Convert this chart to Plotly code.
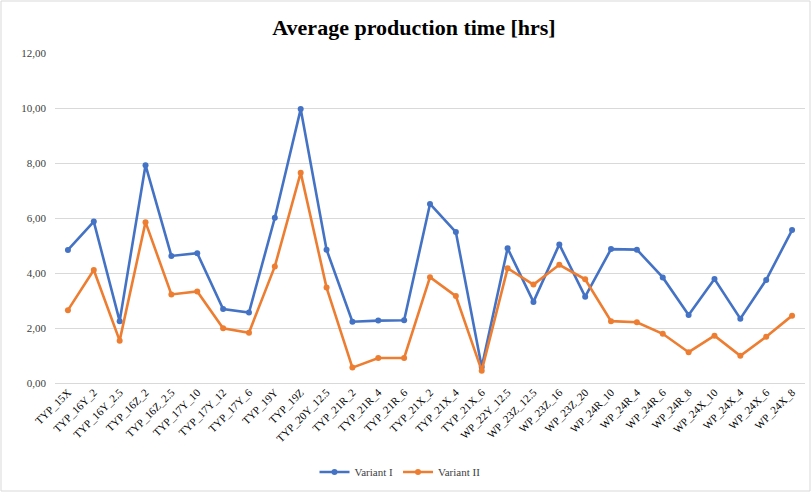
import plotly.graph_objects as go

# Product types on the category axis
categories = [
    "TYP_15X", "TYP_16Y_2", "TYP_16Y_2.5", "TYP_16Z_2", "TYP_16Z_2.5",
    "TYP_17Y_10", "TYP_17Y_12", "TYP_17Y_6", "TYP_19Y", "TYP_19Z",
    "TYP_20Y_12.5", "TYP_21R_2", "TYP_21R_4", "TYP_21R_6", "TYP_21X_2",
    "TYP_21X_4", "TYP_21X_6", "WP_22Y_12.5", "WP_23Z_12.5", "WP_23Z_16",
    "WP_23Z_20", "WP_24R_10", "WP_24R_4", "WP_24R_6", "WP_24R_8",
    "WP_24X_10", "WP_24X_4", "WP_24X_6", "WP_24X_8",
]

# Average production time [hrs] per variant
variant_1 = [
    4.84, 5.87, 2.25, 7.92, 4.62, 4.72, 2.69, 2.56, 6.01, 9.96,
    4.85, 2.23, 2.27, 2.28, 6.51, 5.49, 0.58, 4.90, 2.95, 5.04,
    3.14, 4.87, 4.85, 3.84, 2.47, 3.78, 2.34, 3.75, 5.56,
]
variant_2 = [
    2.65, 4.11, 1.54, 5.85, 3.22, 3.33, 1.99, 1.83, 4.24, 7.65,
    3.47, 0.56, 0.91, 0.91, 3.85, 3.16, 0.45, 4.17, 3.58, 4.30,
    3.77, 2.25, 2.21, 1.79, 1.12, 1.72, 0.99, 1.68, 2.45,
]

y_ticks = [0, 2, 4, 6, 8, 10, 12]
y_tick_text = ["0,00", "2,00", "4,00", "6,00", "8,00", "10,00", "12,00"]

W, H = 811, 492
ML, MR, MT, MB = 55, 6, 53, 109

fig = go.Figure()
fig.add_trace(go.Scatter(
    x=categories, y=variant_1, name="Variant I", mode="lines+markers",
    line=dict(color="#4472C4", width=2.6), marker=dict(size=6, color="#4472C4"),
))
fig.add_trace(go.Scatter(
    x=categories, y=variant_2, name="Variant II", mode="lines+markers",
    line=dict(color="#ED7D31", width=2.6), marker=dict(size=6, color="#ED7D31"),
))

pw = W - ML - MR
ph = H - MT - MB
# chart-area frame
fig.add_shape(
    type="rect", xref="paper", yref="paper",
    x0=(1 - ML) / pw, x1=(W - 1 - ML) / pw,
    y0=-(MB - 1) / ph, y1=(H - 1 - MB) / ph,
    line=dict(color="#d9d9d9", width=1), fillcolor="rgba(0,0,0,0)", layer="below",
)

fig.update_layout(
    width=W, height=H,
    margin=dict(l=ML, r=MR, t=MT, b=MB),
    paper_bgcolor="white", plot_bgcolor="white",
    font=dict(family="Liberation Serif", color="#595959", size=11),
    title=dict(
        text="<b>Average production time [hrs]</b>",
        x=414 / W, xanchor="center", y=1 - 27 / H, yanchor="middle",
        font=dict(family="Liberation Serif", size=22, color="#000000"),
    ),
    xaxis=dict(
        type="category", range=[-0.5, len(categories) - 0.5],
        tickangle=-45, showgrid=False, showline=False, ticks="",
        tickfont=dict(size=11, color="#000000"),
    ),
    yaxis=dict(
        range=[0, 12], tickvals=y_ticks, ticktext=y_tick_text,
        showgrid=True, gridcolor="#d9d9d9", gridwidth=1,
        zeroline=True, zerolinecolor="#d9d9d9", zerolinewidth=1,
        showline=False, ticks="", ticklabelstandoff=8,
        tickfont=dict(size=11, color="#404040"),
    ),
    legend=dict(
        orientation="h", x=0.46, xanchor="center",
        y=-(472 - (H - MB)) / ph, yanchor="middle",
        font=dict(size=11, color="#404040"),
    ),
    showlegend=True,
)

fig.write_html("out.html")
